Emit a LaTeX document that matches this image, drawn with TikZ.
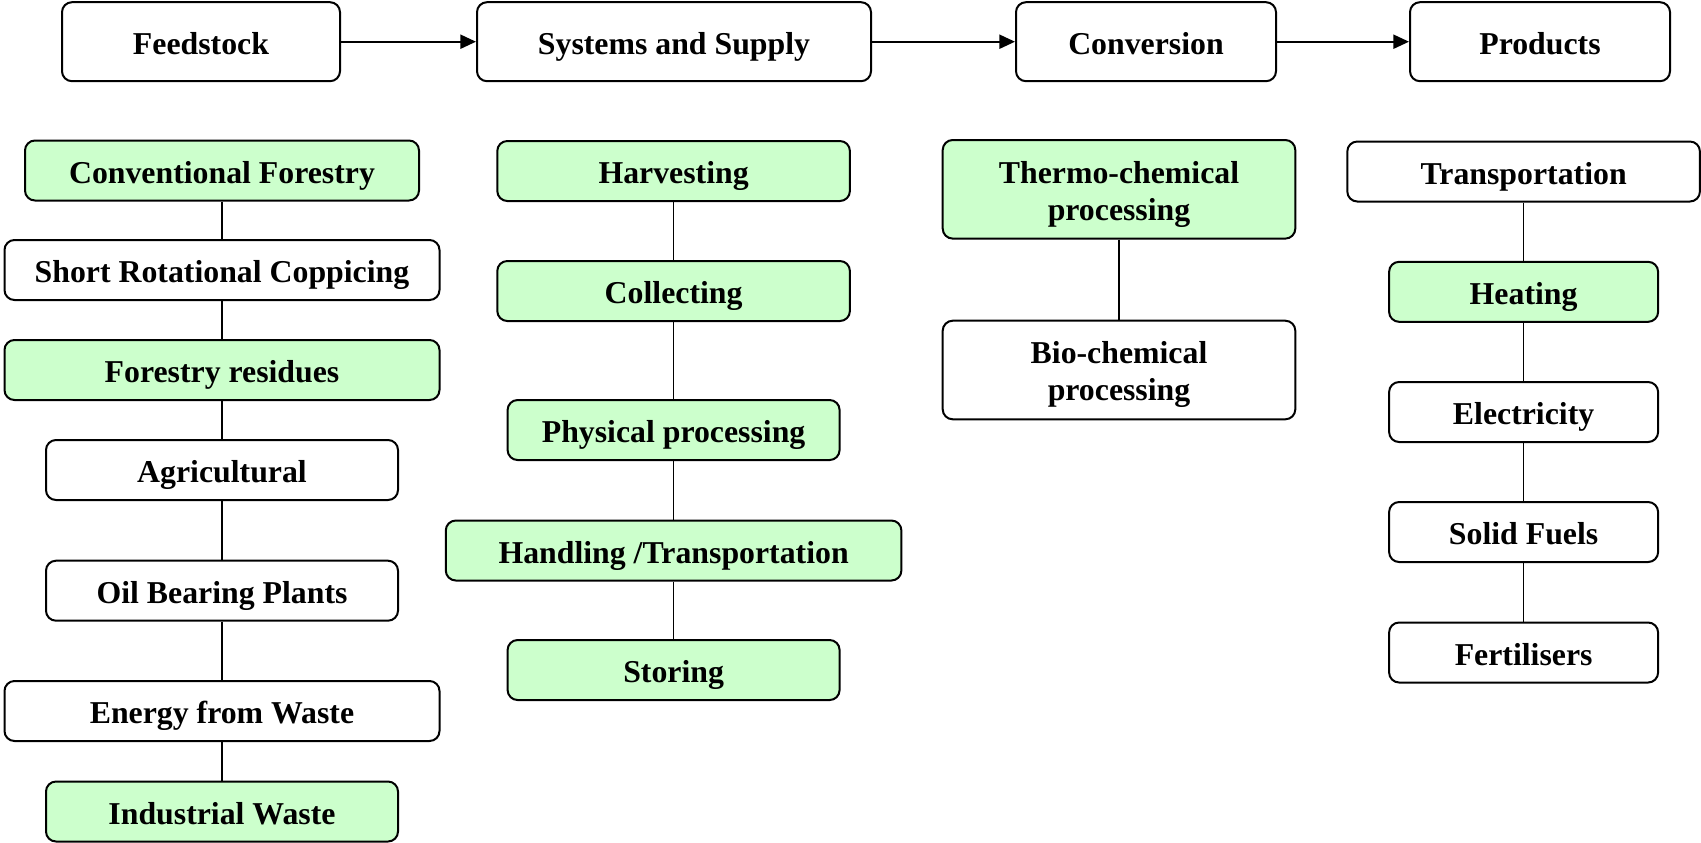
\documentclass[tikz,border=0pt]{standalone}
\usepackage{fontspec}
\setmainfont{Liberation Serif}
\usetikzlibrary{arrows.meta}
\definecolor{leaf}{HTML}{CCFFCC}
\begin{document}
\begin{tikzpicture}[x=0.5pt,y=-0.5pt,
  box/.style={draw=black,line width=1pt,rounded corners=5pt,fill=white,
    inner sep=0pt,minimum height=30pt,align=center,
    text height=12.5pt,text depth=0pt,
    font=\fontsize{15.9}{18.5}\selectfont\bfseries},
  gbox/.style={box,fill=leaf},
  tall/.style={minimum height=49.3pt,text height=30.8pt,text depth=0pt},
  link/.style={draw=black,line width=0.8pt},
  flow/.style={draw=black,line width=1pt,-{Triangle[length=7.8pt,width=7pt]}}]
\useasboundingbox (0,0) rectangle (1701,842);

% stage headers
\node[box,minimum width=139pt,minimum height=39.5pt] (feed) at (201,41.7) {Feedstock};
\node[box,minimum width=197pt,minimum height=39.5pt] (sys) at (674,41.7) {Systems and Supply};
\node[box,minimum width=130pt,minimum height=39.5pt] (conv) at (1146,41.7) {Conversion};
\node[box,minimum width=130pt,minimum height=39.5pt] (prod) at (1540,41.7) {Products};
\draw[flow] (feed) -- (sys);
\draw[flow] (sys) -- (conv);
\draw[flow] (conv) -- (prod);

% feedstock column
\node[gbox,minimum width=197pt] (cf) at (222,170.5) {Conventional Forestry};
\node[box,minimum width=217.5pt] (src) at (222,270) {Short Rotational Coppicing};
\node[gbox,minimum width=217.5pt] (fr) at (222,370) {Forestry residues};
\node[box,minimum width=176pt] (agr) at (222,470) {Agricultural};
\node[box,minimum width=176pt] (obp) at (222,590.7) {Oil Bearing Plants};
\node[box,minimum width=217.5pt] (efw) at (222,711) {Energy from Waste};
\node[gbox,minimum width=176pt] (iw) at (222,811.5) {Industrial Waste};
\foreach \a/\b in {cf/src,src/fr,fr/agr,agr/obp,obp/efw,efw/iw}
  \draw[link] (\a.south) -- (\b.north);

% systems and supply column
\node[gbox,minimum width=176.3pt] (harv) at (673.6,171) {Harvesting};
\node[gbox,minimum width=176.3pt] (coll) at (673.6,291) {Collecting};
\node[gbox,minimum width=166pt] (phys) at (673.6,430) {Physical processing};
\node[gbox,minimum width=227.8pt] (hand) at (673.6,550.5) {Handling /Transportation};
\node[gbox,minimum width=166pt] (stor) at (673.6,670) {Storing};
\foreach \a/\b in {harv/coll,coll/phys,phys/hand,hand/stor}
  \draw[link] (\a.south) -- (\b.north);

% conversion column
\node[gbox,tall,minimum width=176.3pt] (thermo) at (1119,189.3) {Thermo-chemical\\processing};
\node[box,tall,minimum width=176.3pt] (bio) at (1119,370) {Bio-chemical\\processing};
\draw[link] (thermo.south) -- (bio.north);

% products column
\node[box,minimum width=176.3pt] (trans) at (1523.6,171.5) {Transportation};
\node[gbox,minimum width=134.5pt] (heat) at (1523.6,291.8) {Heating};
\node[box,minimum width=134.5pt] (elec) at (1523.6,412) {Electricity};
\node[box,minimum width=134.5pt] (solid) at (1523.6,532) {Solid Fuels};
\node[box,minimum width=134.5pt] (fert) at (1523.6,652.5) {Fertilisers};
\foreach \a/\b in {trans/heat,heat/elec,elec/solid,solid/fert}
  \draw[link] (\a.south) -- (\b.north);
\end{tikzpicture}
\end{document}
